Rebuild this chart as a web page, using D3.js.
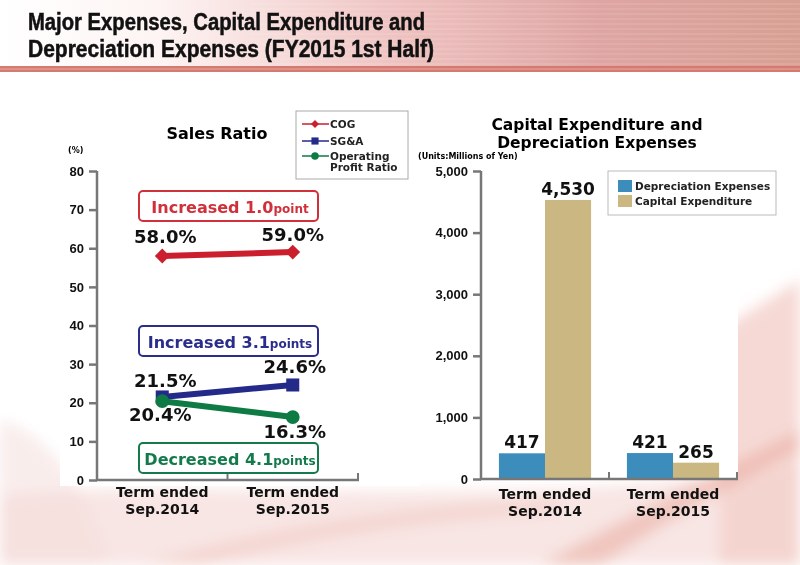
<!DOCTYPE html>
<html>
<head>
<meta charset="utf-8">
<script src="https://cdn.jsdelivr.net/npm/d3@7"></script>
<style>
  body { margin: 0; background: #fff; }
  svg { display: block; font-family: "DejaVu Sans", sans-serif; }
</style>
</head>
<body>
<svg id="chart" width="800" height="565"></svg>
<script>
// data
const categories = [["Term ended", "Sep.2014"], ["Term ended", "Sep.2015"]];
const cog = [58.0, 59.0];
const sga = [21.5, 24.6];
const opr = [20.4, 16.3];
const ratioTicks = [0, 10, 20, 30, 40, 50, 60, 70, 80];

const depreciation = [417, 421];
const capex = [4530, 265];
const capexTicks = [0, 1000, 2000, 3000, 4000, 5000];

const W = 800, H = 565;
const svg = d3.select("#chart");
const defs = svg.append("defs");

// header gradient + background
const hg = defs.append("linearGradient").attr("id", "hdr");
hg.append("stop").attr("offset", "0").attr("stop-color", "#ffffff");
hg.append("stop").attr("offset", "0.2").attr("stop-color", "#fdf4f3");
hg.append("stop").attr("offset", "0.5").attr("stop-color", "#eec2c0");
hg.append("stop").attr("offset", "0.75").attr("stop-color", "#dea5a2");
hg.append("stop").attr("offset", "1").attr("stop-color", "#d8a092");
defs.append("filter").attr("id", "blur").append("feGaussianBlur").attr("stdDeviation", 7);

svg.append("rect").attr("width", W).attr("height", H).attr("fill", "#fff");

// soft swooshes in the background
const deco = svg.append("g").attr("filter", "url(#blur)");
deco.append("path").attr("d", "M0,495 C200,475 500,515 800,465 L800,565 L0,565 Z").attr("fill", "#f5dcd8").attr("opacity", 0.7);
deco.append("path").attr("d", "M720,330 L800,280 L800,565 L720,565 Z").attr("fill", "#f4d0ca").attr("opacity", 0.8);
deco.append("path").attr("d", "M0,420 C40,430 80,470 110,565 L0,565 Z").attr("fill", "#f3dcd9").attr("opacity", 0.5);
deco.append("path").attr("d", "M540,565 C620,520 710,475 800,430 L800,450 C710,495 640,540 600,565 Z").attr("fill", "#e6a093").attr("opacity", 0.45);
deco.append("path").attr("d", "M140,565 C300,520 420,505 560,500 L560,512 C420,520 300,540 200,565 Z").attr("fill", "#eab4aa").attr("opacity", 0.35);

// white chart panels
svg.append("rect").attr("x", 60).attr("y", 76).attr("width", 360).attr("height", 410).attr("fill", "#fff");
svg.append("rect").attr("x", 410).attr("y", 76).attr("width", 328).attr("height", 404).attr("fill", "#fff");

svg.append("rect").attr("width", W).attr("height", 66).attr("fill", "url(#hdr)");
const stripes = svg.append("g");
d3.range(4, 66, 5).forEach(y => {
  stripes.append("line").attr("x1", 250).attr("x2", W).attr("y1", y).attr("y2", y)
    .attr("stroke", "#fff").attr("stroke-opacity", 0.2).attr("stroke-width", 1);
});
svg.append("rect").attr("y", 66).attr("width", W).attr("height", 6).attr("fill", "#d47a70");
svg.append("line").attr("x1", 0).attr("x2", W).attr("y1", 69).attr("y2", 69).attr("stroke", "#e9a9a0").attr("stroke-width", 1);

const title = svg.append("g").attr("font-family", "Liberation Sans, Arial, sans-serif")
  .attr("font-weight", "bold").attr("font-size", 23).attr("fill", "#111")
  .attr("stroke", "#111").attr("stroke-width", 0.5);
title.append("text").attr("x", 28).attr("y", 30).attr("textLength", 397).attr("lengthAdjust", "spacingAndGlyphs")
  .text("Major Expenses, Capital Expenditure and");
title.append("text").attr("x", 28).attr("y", 57).attr("textLength", 406).attr("lengthAdjust", "spacingAndGlyphs")
  .text("Depreciation Expenses (FY2015 1st Half)");

const axisColor = "#777";

// ---------- Sales Ratio (left) ----------
const L = svg.append("g");
const xL = d3.scaleBand().domain([0, 1]).range([97, 358]);
const yL = d3.scaleLinear().domain([0, 80]).range([480, 171]);

L.append("text").attr("x", 217).attr("y", 139).attr("text-anchor", "middle")
  .attr("font-size", 16).attr("font-weight", "bold").text("Sales Ratio");
L.append("text").attr("x", 68).attr("y", 153).attr("font-size", 8).attr("font-weight", "bold").text("(%)");

const yAxisL = L.append("g").attr("transform", "translate(97,0)")
  .call(d3.axisLeft(yL).tickValues(ratioTicks).tickSize(8).tickPadding(5));
yAxisL.select(".domain").remove();
yAxisL.selectAll("line").attr("stroke", axisColor).attr("stroke-width", 2.5);
yAxisL.selectAll("text").attr("font-size", 13).attr("font-weight", "bold").attr("fill", "#111");
L.append("line").attr("x1", 97).attr("x2", 97).attr("y1", yL(80)).attr("y2", yL(0) + 1)
  .attr("stroke", axisColor).attr("stroke-width", 2.5);
L.append("line").attr("x1", 96).attr("x2", 359).attr("y1", yL(0)).attr("y2", yL(0))
  .attr("stroke", axisColor).attr("stroke-width", 2.5);
[1, 2].forEach(i => {
  const x = 97 + xL.step() * i;
  L.append("line").attr("x1", x).attr("x2", x).attr("y1", yL(0)).attr("y2", yL(0) - 7)
    .attr("stroke", axisColor).attr("stroke-width", 2);
});
categories.forEach((c, i) => {
  c.forEach((s, k) => L.append("text").attr("x", xL(i) + xL.bandwidth() / 2).attr("y", 497 + k * 16.5)
    .attr("text-anchor", "middle").attr("font-size", 14).attr("font-weight", "bold").attr("fill", "#111").text(s));
});

// annotation boxes
const notes = [
  { y: 191, color: "#d0303a", big: "Increased 1.0", small: "point" },
  { y: 326, color: "#2b2d8c", big: "Increased 3.1", small: "points" },
  { y: 443, color: "#147a4c", big: "Decreased 4.1", small: "points" }
];
notes.forEach(n => {
  L.append("rect").attr("x", 139).attr("y", n.y).attr("width", 179).attr("height", 30).attr("rx", 4)
    .attr("fill", "#fff").attr("stroke", n.color).attr("stroke-width", 2);
  const t = L.append("text").attr("x", 230).attr("y", n.y + 22).attr("text-anchor", "middle")
    .attr("fill", n.color).attr("font-weight", "bold");
  t.append("tspan").attr("font-size", 16).text(n.big);
  t.append("tspan").attr("font-size", 12).text(n.small);
});

const cx = i => xL(i) + xL.bandwidth() / 2;
const line = d3.line().x((d, i) => cx(i)).y(d => yL(d));
const series = [
  { vals: cog, color: "#cc1f2d", shape: d3.symbolSquare, size: 110, rot: 45 },
  { vals: sga, color: "#232a8a", shape: d3.symbolSquare, size: 170, rot: 0 },
  { vals: opr, color: "#0e7a44", shape: d3.symbolCircle, size: 150, rot: 0 }
];
series.forEach(s => {
  L.append("path").datum(s.vals).attr("d", line).attr("fill", "none")
    .attr("stroke", s.color).attr("stroke-width", 6);
  L.selectAll(null).data(s.vals).join("path")
    .attr("transform", (d, i) => `translate(${cx(i)},${yL(d)}) rotate(${s.rot})`)
    .attr("d", d3.symbol().type(s.shape).size(s.size)).attr("fill", s.color);
});

// value labels
const valLabels = [
  { v: cog[0], i: 0, dx: 3, y: 243 }, { v: cog[1], i: 1, dx: 0, y: 241 },
  { v: sga[0], i: 0, dx: 3, y: 387 }, { v: sga[1], i: 1, dx: 2, y: 373 },
  { v: opr[0], i: 0, dx: -2, y: 421 }, { v: opr[1], i: 1, dx: 2, y: 438 }
];
valLabels.forEach(d => {
  L.append("text").attr("x", cx(d.i) + d.dx).attr("y", d.y).attr("text-anchor", "middle")
    .attr("font-size", 18).attr("font-weight", "bold").attr("fill", "#111").text(d.v.toFixed(1) + "%");
});

// legend
const lg = L.append("g");
lg.append("rect").attr("x", 296).attr("y", 111).attr("width", 112).attr("height", 68)
  .attr("fill", "#fff").attr("stroke", "#aaa").attr("stroke-width", 1);
const lgItems = [
  { s: series[0], lines: ["COG"], y: 124 },
  { s: series[1], lines: ["SG&A"], y: 141 },
  { s: series[2], lines: ["Operating", "Profit Ratio"], y: 156 }
];
lgItems.forEach(it => {
  lg.append("line").attr("x1", 302).attr("x2", 329).attr("y1", it.y).attr("y2", it.y)
    .attr("stroke", it.s.color).attr("stroke-width", 1.5);
  lg.append("path").attr("transform", `translate(315,${it.y}) rotate(${it.s.rot})`)
    .attr("d", d3.symbol().type(it.s.shape).size(it.s.size * 0.3)).attr("fill", it.s.color);
  it.lines.forEach((s, k) => {
    lg.append("text").attr("x", 330).attr("y", it.y + 4 + k * 11).attr("font-size", 10.5)
      .attr("font-weight", "bold").attr("fill", "#222").text(s);
  });
});

// ---------- Capital Expenditure (right) ----------
const R = svg.append("g");
const xR = d3.scaleBand().domain([0, 1]).range([481, 737]).paddingInner(0.28).paddingOuter(0.14);
const xSub = d3.scaleBand().domain(["dep", "cap"]).range([0, xR.bandwidth()]);
const yR = d3.scaleLinear().domain([0, 5000]).range([479, 171]);

["Capital Expenditure and", "Depreciation Expenses"].forEach((s, i) => {
  R.append("text").attr("x", 597).attr("y", 130 + i * 17.5).attr("text-anchor", "middle")
    .attr("font-size", 15.5).attr("font-weight", "bold").text(s);
});
R.append("text").attr("x", 418).attr("y", 159).attr("font-size", 8).attr("font-weight", "bold")
  .text("(Units:Millions of Yen)");

const yAxisR = R.append("g").attr("transform", "translate(481,0)")
  .call(d3.axisLeft(yR).tickValues(capexTicks).tickSize(8).tickPadding(5).tickFormat(d3.format(",")));
yAxisR.select(".domain").remove();
yAxisR.selectAll("line").attr("stroke", axisColor).attr("stroke-width", 2.5);
yAxisR.selectAll("text").attr("font-size", 13).attr("font-weight", "bold").attr("fill", "#111");
R.append("line").attr("x1", 481).attr("x2", 481).attr("y1", yR(5000)).attr("y2", yR(0) + 1)
  .attr("stroke", axisColor).attr("stroke-width", 2.5);

const bars = [
  { key: "dep", vals: depreciation, color: "#3c8dbb", name: "Depreciation Expenses" },
  { key: "cap", vals: capex, color: "#cbb782", name: "Capital Expenditure" }
];
bars.forEach(b => {
  R.selectAll(null).data(b.vals).join("rect")
    .attr("x", (d, i) => xR(i) + xSub(b.key)).attr("width", xSub.bandwidth())
    .attr("y", d => yR(d)).attr("height", d => yR(0) - yR(d)).attr("fill", b.color);
  R.selectAll(null).data(b.vals).join("text")
    .attr("x", (d, i) => xR(i) + xSub(b.key) + xSub.bandwidth() / 2)
    .attr("y", d => yR(d) - 5).attr("text-anchor", "middle")
    .attr("font-size", 17).attr("font-weight", "bold").attr("fill", "#111")
    .text(d => d3.format(",")(d));
});

R.append("line").attr("x1", 480).attr("x2", 738).attr("y1", yR(0)).attr("y2", yR(0))
  .attr("stroke", axisColor).attr("stroke-width", 2.5);
[1, 2].forEach(i => {
  const x = 481 + (737 - 481) / 2 * i;
  R.append("line").attr("x1", x).attr("x2", x).attr("y1", yR(0)).attr("y2", yR(0) - 7)
    .attr("stroke", axisColor).attr("stroke-width", 2);
});
categories.forEach((c, i) => {
  const x = xR(i) + xR.bandwidth() / 2;
  c.forEach((s, k) => R.append("text").attr("x", x).attr("y", 499 + k * 16.5).attr("text-anchor", "middle")
    .attr("font-size", 14).attr("font-weight", "bold").attr("fill", "#111").text(s));
});

const rg = R.append("g");
rg.append("rect").attr("x", 608).attr("y", 171).attr("width", 168).attr("height", 44)
  .attr("fill", "#fff").attr("stroke", "#bbb").attr("stroke-width", 1);
bars.forEach((b, k) => {
  rg.append("rect").attr("x", 618).attr("y", 180 + k * 15).attr("width", 14).attr("height", 12).attr("fill", b.color);
  rg.append("text").attr("x", 635).attr("y", 190 + k * 15).attr("font-size", 10.5)
    .attr("font-weight", "bold").attr("fill", "#222").text(b.name);
});
</script>
</body>
</html>
